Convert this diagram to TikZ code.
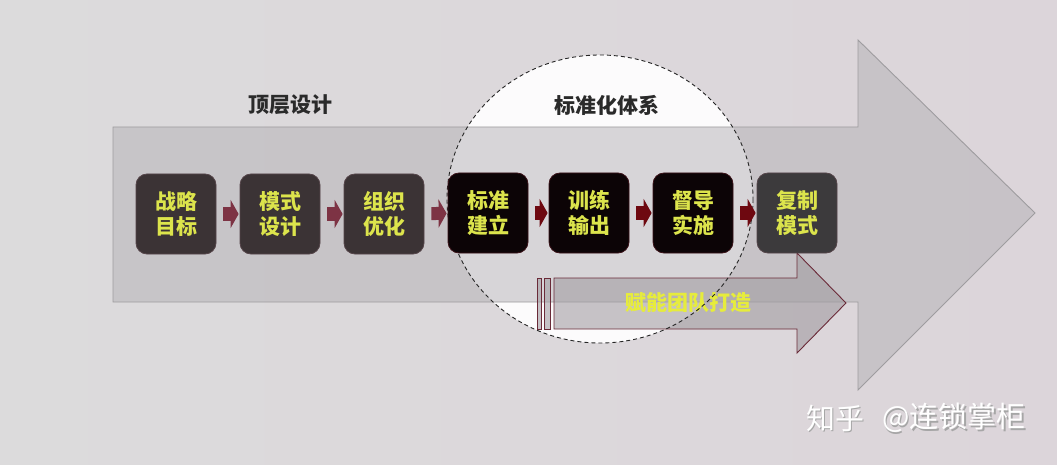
\documentclass[tikz,border=0pt]{standalone}
\usepackage{fontspec}
\newfontfamily\cjk{Noto Sans CJK SC}
\usetikzlibrary{arrows.meta}
\definecolor{bgL}{HTML}{DCDBDC}
\definecolor{bgR}{HTML}{DCD5DA}
\definecolor{shaft}{HTML}{B4B1B5}
\definecolor{shaftline}{HTML}{9E9C9F}
\definecolor{boxA}{HTML}{3B3335}
\definecolor{boxB}{HTML}{0C0406}
\definecolor{boxC}{HTML}{3C3A3C}
\definecolor{boxlineA}{HTML}{55454A}
\definecolor{boxlineB}{HTML}{3A1218}
\definecolor{ytext}{HTML}{DCE44C}
\definecolor{arrA}{HTML}{7D3344}
\definecolor{arrB}{HTML}{6E0810}
\definecolor{barrfill}{HTML}{A29DA2}
\definecolor{barrline}{HTML}{6A2A38}
\definecolor{labeltext}{HTML}{2A2A2A}
\definecolor{btext}{HTML}{E6EC3C}
\begin{document}
\begin{tikzpicture}[x=1pt,y=-1pt,
  box/.style={rounded corners=11pt, minimum width=80pt, minimum height=80pt,
    inner sep=0pt, align=center, line width=0.8pt, text=ytext,
    font=\cjk\bfseries\fontsize{21}{25}\selectfont},
  sarr/.style={draw=#1, line width=13pt, -{Triangle[length=8pt,width=28pt]},
    shorten <=7pt, shorten >=1pt},
  toplabel/.style={text=labeltext, font=\cjk\bfseries\fontsize{21}{25}\selectfont},
  barr/.style={fill=barrfill, fill opacity=0.6, draw=barrline, line width=0.9pt}
]
\useasboundingbox (0,0) rectangle (1057,465);
\shade[left color=bgL, right color=bgR] (0,0) rectangle (1057,465);
% circle fill
\fill[white, opacity=0.92] (600,199) ellipse [x radius=153, y radius=144];
% big arrow
\path[fill=shaft, fill opacity=0.5, draw=shaftline, line width=0.9pt]
  (113,127) -- (858,127) -- (858,40) -- (1035,213) -- (858,390) -- (858,302) -- (113,302) -- cycle;
% bottom striped arrow
\path[barr] (537,278) rectangle (541,329);
\path[barr] (544,278) rectangle (550,329);
\path[barr] (554,278) -- (797,278) -- (797,253) -- (846,303) -- (797,353) -- (797,329) -- (554,329) -- cycle;
\node[text=btext, font=\cjk\bfseries\fontsize{21}{25}\selectfont] (team) at (688,303) {赋能团队打造};
% dashed circle outline
\draw[black!85, line width=0.9pt, dash pattern=on 4pt off 3pt] (600,199) ellipse [x radius=153, y radius=144];
% labels
\node[toplabel] (top) at (290,105) {顶层设计};
\node[toplabel] (std) at (607,105) {标准化体系};
% boxes
\node[box, fill=boxA, draw=boxlineA] (b1) at (176,214) {战略\\目标};
\node[box, fill=boxA, draw=boxlineA] (b2) at (280,214) {模式\\设计};
\node[box, fill=boxA, draw=boxlineA] (b3) at (384,214) {组织\\优化};
\node[box, fill=boxB, draw=boxlineB] (b4) at (488,213) {标准\\建立};
\node[box, fill=boxB, draw=boxlineB] (b5) at (589,213) {训练\\输出};
\node[box, fill=boxB, draw=boxlineB] (b6) at (693,213) {督导\\实施};
\node[box, fill=boxC, draw=boxlineA] (b7) at (797,213) {复制\\模式};
% small arrows
\draw[sarr=arrA] (b1) -- (b2);
\draw[sarr=arrA] (b2) -- (b3);
\draw[sarr=arrA] (b3) -- (b4);
\draw[sarr=arrB] (b4) -- (b5);
\draw[sarr=arrB] (b5) -- (b6);
\draw[sarr=arrB] (b6) -- (b7);
% watermark
\node[text=black!35, font=\cjk\fontsize{29}{32}\selectfont] at (836.5,419.5) {知乎};
\node[text=white, font=\cjk\fontsize{29}{32}\selectfont] (wm1) at (835,418) {知乎};
\node[text=black!35, font=\cjk\fontsize{29}{32}\selectfont] at (955.5,419.5) {@连锁掌柜};
\node[text=white, font=\cjk\fontsize{29}{32}\selectfont] (wm2) at (954,418) {@连锁掌柜};
\end{tikzpicture}
\end{document}
